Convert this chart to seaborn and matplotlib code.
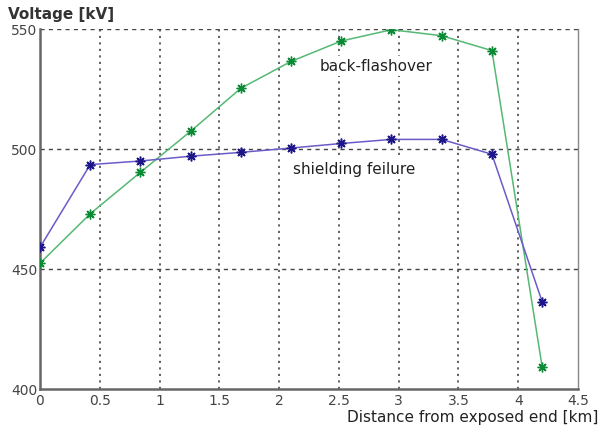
import matplotlib
matplotlib.use("Agg")
import matplotlib.pyplot as plt
import seaborn as sns
import pandas as pd

distance_km = [0, 0.42, 0.84, 1.26, 1.68, 2.10, 2.52, 2.94, 3.36, 3.78, 4.20]
shielding_failure_kv = [459, 493.5, 495, 497, 498.6, 500.4, 502.3, 504, 504, 497.8, 436.4]
back_flashover_kv = [452.4, 473, 490.3, 507.4, 525.3, 536.5, 545, 549.7, 547.2, 541, 409.3]
x_ticks = [0, 0.5, 1, 1.5, 2, 2.5, 3, 3.5, 4, 4.5]
y_ticks = [400, 450, 500, 550]

sns.set_style("white")
plt.rcParams['font.family'] = ['DejaVu Sans']

fig = plt.figure(figsize=(6.0, 4.31), dpi=100)
ax = fig.add_axes([40/600, 41/431, 538/600, 360/431])

df_s = pd.DataFrame({"x": distance_km, "y": shielding_failure_kv})
df_b = pd.DataFrame({"x": distance_km, "y": back_flashover_kv})

ast = (8, 2, 0)
sns.lineplot(data=df_b, x="x", y="y", ax=ax, color="#55b874", linewidth=1.1,
             marker=ast, markersize=7, markeredgecolor="#0b8a35",
             markerfacecolor="#0b8a35", markeredgewidth=1.0, zorder=3)
sns.lineplot(data=df_s, x="x", y="y", ax=ax, color="#6a5cc8", linewidth=1.1,
             marker=ast, markersize=7, markeredgecolor="#1c1688",
             markerfacecolor="#1c1688", markeredgewidth=1.1, zorder=4)

ax.set_xlim(0, 4.5)
ax.set_ylim(400, 550)
ax.set_xticks(x_ticks)
ax.set_xticklabels(["0", "0.5", "1", "1.5", "2", "2.5", "3", "3.5", "4", "4.5"])
ax.set_yticks(y_ticks)
ax.set_xlabel("")
ax.set_ylabel("")

for xv in x_ticks[1:-1]:
    ax.axvline(xv, color="#555555", linestyle=(0, (1.2, 2.4)), linewidth=1.3, zorder=1)
for yv in y_ticks[1:]:
    ax.axhline(yv, color="#444444", linestyle=(0, (3, 3)), linewidth=1.0, zorder=1)

for side in ["left", "bottom"]:
    ax.spines[side].set_color("#666666")
    ax.spines[side].set_linewidth(1.8)
for side in ["top", "right"]:
    ax.spines[side].set_color("#888888")
    ax.spines[side].set_linewidth(1.0)
ax.spines["top"].set_visible(False)

ax.tick_params(axis="both", direction="in", length=4, width=1, colors="#444444",
               labelsize=10, labelcolor="#444444", pad=3)
ax.tick_params(axis="y", pad=2)

box = dict(facecolor="white", edgecolor="none", pad=1.5)
ax.text(2.81, 534.6, "back-flashover", ha="center", va="center", fontsize=11,
        color="#222222", fontweight="medium", bbox=box, zorder=2)
ax.text(2.63, 491.7, "shielding feilure", ha="center", va="center", fontsize=11,
        color="#222222", fontweight="medium", bbox=box, zorder=2)

fig.text(8/600, 1 - 14/431, "Voltage [kV]", ha="left", va="center", fontsize=11,
         color="#333333", fontweight="semibold")
fig.text(598/600, 1 - 418/431, "Distance from exposed end [km]", ha="right",
         va="center", fontsize=11, color="#222222")

fig.savefig("out.png", dpi=100)
